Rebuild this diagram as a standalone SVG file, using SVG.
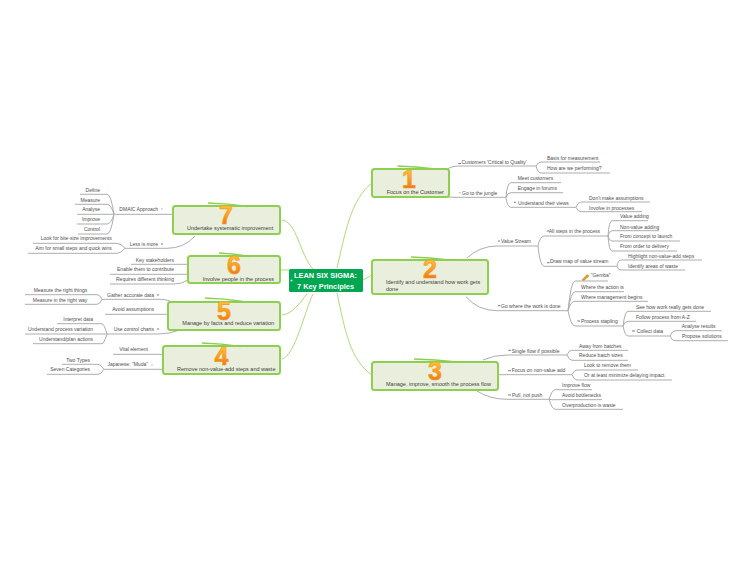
<svg xmlns="http://www.w3.org/2000/svg" width="750" height="563" viewBox="0 0 750 563">
<style>
text{font-family:"Liberation Sans",Arial,sans-serif}
.t{font-size:5px;fill:#4d4d4d}
.e{text-anchor:end}
.n{font-size:5.5px;fill:#3d3d3d}
.d{font-size:25px;font-weight:700;text-anchor:middle;fill:url(#g);stroke:#f59a1e;stroke-width:.7}
.b{fill:#e9efdc;stroke:#8dcf50;stroke-width:2}
.h{fill:none;stroke:#8dcf50;stroke-width:1.6}
.c{fill:none;stroke:#a0d868;stroke-width:.9}
.l{fill:none;stroke:#adadad;stroke-width:1}
.k{fill:none;stroke:#444;stroke-width:.7}
.m{fill:none;stroke:#aaa;stroke-width:.7}
</style>
<defs><linearGradient id="g" x1="0" y1="0" x2="0" y2="1"><stop offset="0" stop-color="#ffd93a"/><stop offset=".5" stop-color="#f9a020"/><stop offset="1" stop-color="#e9641c"/></linearGradient></defs>
<rect width="750" height="563" fill="#fff"/>
<g id="connectors">
<path class="c" d="M337 268C345 235 350 200 372 183M363 280L372 275M337 293C345 330 350 360 372 375M282 220C297 222 300 255 313 269M281 270H289M282 315C292 314 300 303 307 294M282 359C295 356 305 310 313 294"/>
<path class="l" d="M448 168.500Q453 166 458 166H536M536 166Q538 162 541 162H600M536 166Q538 173 541 173H610"/>
<path class="l" d="M448 197Q453 197.300 458 197.300H506M506 197.300Q507 183 511 182.700H561M506 197.300Q507 193 511 192.700H563M506 197.300Q507 207 511 207.300H576M576 207.300Q578 202 581 202H650M576 207.300Q578 212 581 211.700H642"/>
<path class="l" d="M467 258Q480 246 497 246H538M538 246Q540 236 544 236H608M538 246Q540 266 544 266.300H617M608 236Q609 221 612 220.700H648M608 236Q609 231 612 230.700H659M608 236Q609 241 612 241H680M608 236Q609 251 612 251H677M617 266.300Q618 260 621 260H702M617 266.300Q618 270 621 270H685"/>
<path class="l" d="M466 296.700Q478 310.700 497 310.700H568M568 310.700Q571 281 575 281H608M568 310.700Q571 292 575 291.700H624M568 310.700Q571 301 575 301.300H648M568 310.700Q571 326 575 326H623M623 326Q625 311 628 311.300H711M623 326Q625 321 628 321.300H696M623 326Q625 336 628 336H670M670 336Q672 331 675 330.700H722M670 336Q672 341 675 340.700H728"/>
<path class="l" d="M483 360Q494 355 507 355H567M567 355Q569 350 572 350.300H628M567 355Q569 360 572 360.300H628M498 374.700H572M572 374.700Q574 370 577 370H638M572 374.700Q574 380 577 380H672M477 391Q490 399.300 507 399.300H549M549 399.300Q552 390 555 389.700H592M549 399.300Q552 400 555 399.700H602M549 399.300Q552 409 555 409.300H623"/>
<path class="l" d="M173 214.300H114M114 214.300Q111 194.300 107 194.300H80M114 214.300Q111 204.300 107 204.300H75M114 214.300H77M114 214.300Q111 224 107 224H77M114 214.300Q111 234 107 234H78"/>
<path class="l" d="M195 236Q184 248.300 167 248.300H125M125 248.300Q121 243.300 117 243.300H33M125 248.300Q121 253.300 117 253.300H28"/>
<path class="l" d="M188 264.300H131M188 274.300H110M188 280Q182 284 174 284H110"/>
<path class="l" d="M170 301Q165 299.300 160 299.300H102M102 299.300Q100 294.700 97 294.700H25M102 299.300Q100 304.300 97 304.300H25M168 314.300H105M180 330Q170 334 158 334H107M107 334Q104 323.700 102 323.700H57M107 334H25M107 334Q104 343.700 102 343.700H33M163 354.300H113M163 369.300H104M104 369.300Q101 364.300 98 364.300H62M104 369.300Q101 374.300 98 374.300H47"/>
<path class="k" d="M374 183H376.500M375 375H377.500M276 219H278M276 269H278M276 314H278M276 360H278M458.300 163.500H461M514 202.300H516M546.700 231H549M547 262.700H549.500M498 241H500M498 305.700H500.500M577.300 321H580M632 331H635M508.300 350.300H511M508 370.700H511M508 395H511M161 244H163M157 295H159M157 329H159"/>
<path class="m" d="M458.700 192.700H461M374 275H376.500M161 209H163M151 365H153"/>
</g>
<g id="center"><rect x="289" y="269" width="74" height="23" rx="1.500" fill="#00a651"/><circle cx="291.500" cy="280.500" r="1.100" fill="#cfe8d8"/><text x="294" y="277.800" font-size="8" font-weight="700" fill="#fff" textLength="63" lengthAdjust="spacingAndGlyphs">LEAN SIX SIGMA:</text><text x="297" y="288.800" font-size="8" font-weight="700" fill="#fff" textLength="57" lengthAdjust="spacingAndGlyphs">7 Key Principles</text></g>
<g id="node1"><rect class="b" x="372" y="169" width="77" height="28" rx="2.500"/><path class="h" d="M397.500 166Q416 166.500 435 169"/><text class="d" x="409" y="188">1</text><text class="n" x="386.700" y="194">Focus on the Customer</text></g>
<g id="node2"><rect class="b" x="372" y="260" width="116" height="34" rx="2.500"/><path class="h" d="M411 257Q430 257.500 449 260"/><text class="d" x="430" y="278">2</text><text class="n" x="386" y="284">Identify and understand how work gets</text><text class="n" x="386" y="291.300">done</text></g>
<g id="node3"><rect class="b" x="372" y="362" width="126" height="28" rx="2.500"/><path class="h" d="M414 359Q435 359.500 457 362"/><text class="d" x="435" y="380">3</text><text class="n" x="386" y="386">Manage, improve, smooth the process flow</text></g>
<g id="node4"><rect class="b" x="163" y="346" width="117" height="28" rx="2.500"/><path class="h" d="M202 343Q221 343.500 241 346.500"/><text class="d" x="221.500" y="365">4</text><text class="n" x="177" y="370.700">Remove non-value-add steps and waste</text></g>
<g id="node5"><rect class="b" x="168" y="302" width="112" height="28" rx="2.500"/><path class="h" d="M205 298Q224 298.500 243 301.500"/><text class="d" x="224" y="320">5</text><text class="n" x="182.300" y="325">Manage by facts and reduce variation</text></g>
<g id="node6"><rect class="b" x="188" y="256" width="92" height="27" rx="2.500"/><path class="h" d="M219 253Q234 253.500 250 256.500"/><text class="d" x="234" y="274">6</text><text class="n" x="202.700" y="280.700">Involve people in the process</text></g>
<g id="node7"><rect class="b" x="173" y="206" width="107" height="28" rx="2.500"/><path class="h" d="M208 203Q228 203.500 248 206.500"/><text class="d" x="226" y="224">7</text><text class="n" x="187" y="230.300">Undertake systematic improvement</text></g>
<g id="labels-right">
<text class="t" x="461.500" y="163.500">Customers 'Critical to Quality'</text>
<text class="t" x="547" y="159.500">Basis for measurement</text>
<text class="t" x="547" y="169.500">How are we performing?</text>
<text class="t" x="462" y="194.700">Go to the jungle</text>
<text class="t" x="517.700" y="180">Meet customers</text>
<text class="t" x="517.700" y="190">Engage in forums</text>
<text class="t" x="518" y="204.700">Understand their views</text>
<text class="t" x="589" y="200">Don't make assumptions</text>
<text class="t" x="589" y="209.700">Involve in processes</text>
<text class="t" x="501" y="243.300">Value Stream</text>
<text class="t" x="548.700" y="233.300">All steps in the process</text>
<text class="t" x="550" y="262.700">Draw map of value stream</text>
<text class="t" x="620" y="218.300">Value adding</text>
<text class="t" x="620" y="228.700">Non-value adding</text>
<text class="t" x="620" y="238.300">From concept to launch</text>
<text class="t" x="620" y="248.300">From order to delivery</text>
<text class="t" x="628" y="257.700">Highlight non-value-add steps</text>
<text class="t" x="628" y="267.700">Identify areas of waste</text>
<text class="t" x="501" y="307.700">Go where the work is done</text>
<path d="M582 280L587 274.500L589 276L584 280.500Z" fill="#e8a020" stroke="#7a5a10" stroke-width=".3"/>
<text class="t" x="590.700" y="276.700">"Gemba"</text>
<text class="t" x="581" y="289.300">Where the action is</text>
<text class="t" x="581" y="299">Where management begins</text>
<text class="t" x="581" y="323.300">Process stapling</text>
<text class="t" x="636" y="309">See how work really gets done</text>
<text class="t" x="636" y="318.700">Follow process from A-Z</text>
<text class="t" x="636.700" y="333">Collect data</text>
<text class="t" x="681.700" y="328.300">Analyse results</text>
<text class="t" x="682" y="338">Propose solutions</text>
<text class="t" x="511.700" y="352.700">Single flow if possible</text>
<text class="t" x="579" y="347.700">Away from batches</text>
<text class="t" x="579" y="357.300">Reduce batch sizes</text>
<text class="t" x="511.700" y="372">Focus on non-value add</text>
<text class="t" x="584" y="367.300">Look to remove them</text>
<text class="t" x="584" y="376.700">Or at least minimize delaying impact</text>
<text class="t" x="512" y="396.700">Pull, not push</text>
<text class="t" x="562" y="387">Improve flow</text>
<text class="t" x="562" y="397">Avoid bottlenecks</text>
<text class="t" x="562" y="406.700">Overproduction is waste</text>
</g>
<g id="labels-left">
<text class="t e" x="158" y="211.300">DMAIC Approach</text>
<text class="t e" x="100" y="191.700">Define</text>
<text class="t e" x="100" y="201.700">Measure</text>
<text class="t e" x="100" y="211.300">Analyse</text>
<text class="t e" x="100" y="221.300">Improve</text>
<text class="t e" x="100" y="231">Control</text>
<text class="t e" x="158" y="245.700">Less is more</text>
<text class="t e" x="111.700" y="240.300">Look for bite-size improvements</text>
<text class="t e" x="111.700" y="250">Aim for small steps and quick wins</text>
<text class="t e" x="174" y="261.700">Key stakeholders</text>
<text class="t e" x="174" y="271.300">Enable them to contribute</text>
<text class="t e" x="174" y="281">Requires different thinking</text>
<text class="t e" x="154" y="296.700">Gather accurate data</text>
<text class="t e" x="87.300" y="292">Measure the right things</text>
<text class="t e" x="87.300" y="301.700">Measure in the right way</text>
<text class="t e" x="154" y="311.300">Avoid assumptions</text>
<text class="t e" x="154" y="331">Use control charts</text>
<text class="t e" x="93" y="321">Interpret data</text>
<text class="t e" x="93" y="331">Understand process variation</text>
<text class="t e" x="93" y="340.700">Understand/plan actions</text>
<text class="t e" x="148" y="351.300">Vital element</text>
<text class="t e" x="148" y="366.300">Japanese: "Muda"</text>
<text class="t e" x="90" y="361.700">Two Types</text>
<text class="t e" x="90" y="371.300">Seven Categories</text>
</g>
</svg>
